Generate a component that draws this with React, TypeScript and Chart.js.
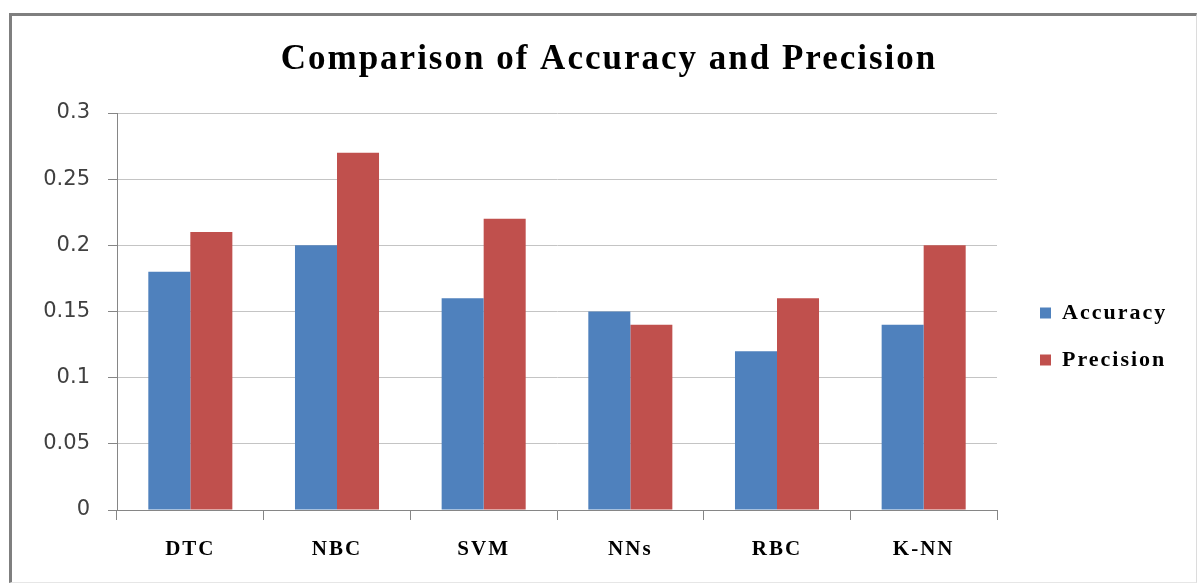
import React, { useEffect, useRef } from "react";
import { Chart, registerables } from "chart.js";

Chart.register(...registerables);

const titleText = "Comparison of Accuracy and Precision";
const categories = ["DTC", "NBC", "SVM", "NNs", "RBC", "K-NN"];
const seriesNames = ["Accuracy", "Precision"];
const accuracy = [0.18, 0.2, 0.16, 0.15, 0.12, 0.14];
const precision = [0.21, 0.27, 0.22, 0.14, 0.16, 0.2];
const yTickLabels = ["0", "0.05", "0.1", "0.15", "0.2", "0.25", "0.3"];

const SERIF = "'Liberation Serif', 'Times New Roman', serif";
const SANS = "'DejaVu Sans', Verdana, sans-serif";

const placementPlugin = {
  id: "placement",
  afterLayout(chart: any) {
    const t = chart.titleBlock;
    if (t) {
      t.left = 18;
      t.right = 1200;
      t.width = 1182;
    }
    const lg = chart.legend;
    if (lg) {
      const h = lg.height;
      lg.left = 1015;
      lg.right = 1200;
      lg.width = 185;
      lg.top = 277;
      lg.bottom = 277 + h;
    }
  },
  beforeDraw(chart: any) {
    (chart.ctx as any).letterSpacing = "2px";
  },
  beforeDatasetsDraw(chart: any) {
    (chart.ctx as any).letterSpacing = "0px";
  },
};

export default function App() {
  const canvasRef = useRef<HTMLCanvasElement | null>(null);

  useEffect(() => {
    if (!canvasRef.current) return;
    const chart = new Chart(canvasRef.current, {
      type: "bar",
      data: {
        labels: categories,
        datasets: [
          {
            label: seriesNames[0],
            data: accuracy,
            backgroundColor: "#4F81BD",
            borderWidth: 0,
          },
          {
            label: seriesNames[1],
            data: precision,
            backgroundColor: "#C0504D",
            borderWidth: 0,
          },
        ],
      },
      plugins: [placementPlugin],
      options: {
        animation: false,
        responsive: false,
        devicePixelRatio: 1,
        layout: { padding: { left: 0, right: 203, top: 0, bottom: 0 } },
        datasets: {
          bar: { categoryPercentage: 0.573, barPercentage: 1.0 },
        },
        plugins: {
          title: {
            display: true,
            text: titleText,
            color: "#000000",
            font: { family: SERIF, size: 35, weight: "bold", lineHeight: 1.2 },
            padding: { top: 39, bottom: 32 },
          },
          legend: {
            display: true,
            position: "chartArea",
            align: "start",
            labels: {
              boxWidth: 11,
              boxHeight: 11,
              padding: 25,
              color: "#000000",
              font: { family: SERIF, size: 22, weight: "bold" },
            },
          },
          tooltip: { enabled: false },
        },
        scales: {
          x: {
            afterFit: (s: any) => {
              s.height = 73;
            },
            grid: {
              display: true,
              drawOnChartArea: false,
              drawTicks: true,
              tickLength: 10,
              offset: true,
              tickColor: "#868686",
            },
            border: { display: true, color: "#868686", width: 1 },
            ticks: {
              color: "#000000",
              padding: 17,
              maxRotation: 0,
              font: { family: SERIF, size: 21, weight: "bold" },
            },
          },
          y: {
            min: 0,
            max: 0.3,
            afterFit: (s: any) => {
              s.width = 117;
            },
            grid: {
              color: "#c4c4c4",
              lineWidth: 1,
              tickLength: 9,
              tickColor: "#868686",
            },
            border: { display: true, color: "#868686", width: 1 },
            ticks: {
              stepSize: 0.05,
              padding: 18,
              z: 1,
              color: "#404040",
              font: { family: SANS, size: 21 },
              callback: (_v: any, i: number) => yTickLabels[i],
            },
          },
        },
      },
    } as any);
    return () => chart.destroy();
  }, []);

  return (
    <div
      style={{
        position: "fixed",
        left: 0,
        top: 0,
        width: 1200,
        height: 583,
        background: "#ffffff",
        overflow: "hidden",
      }}
    >
      <canvas
        ref={canvasRef}
        width={1200}
        height={583}
        style={{ position: "absolute", left: 0, top: 0, width: 1200, height: 583 }}
      />
      <div
        style={{
          position: "absolute",
          left: 9,
          top: 13,
          width: 1184,
          height: 566,
          borderLeft: "3px solid #7f7f7f",
          borderTop: "3px solid #7f7f7f",
          borderRight: "1px solid #dcdcdc",
          borderBottom: "1px solid #e6e6e6",
          pointerEvents: "none",
        }}
      />
    </div>
  );
}
